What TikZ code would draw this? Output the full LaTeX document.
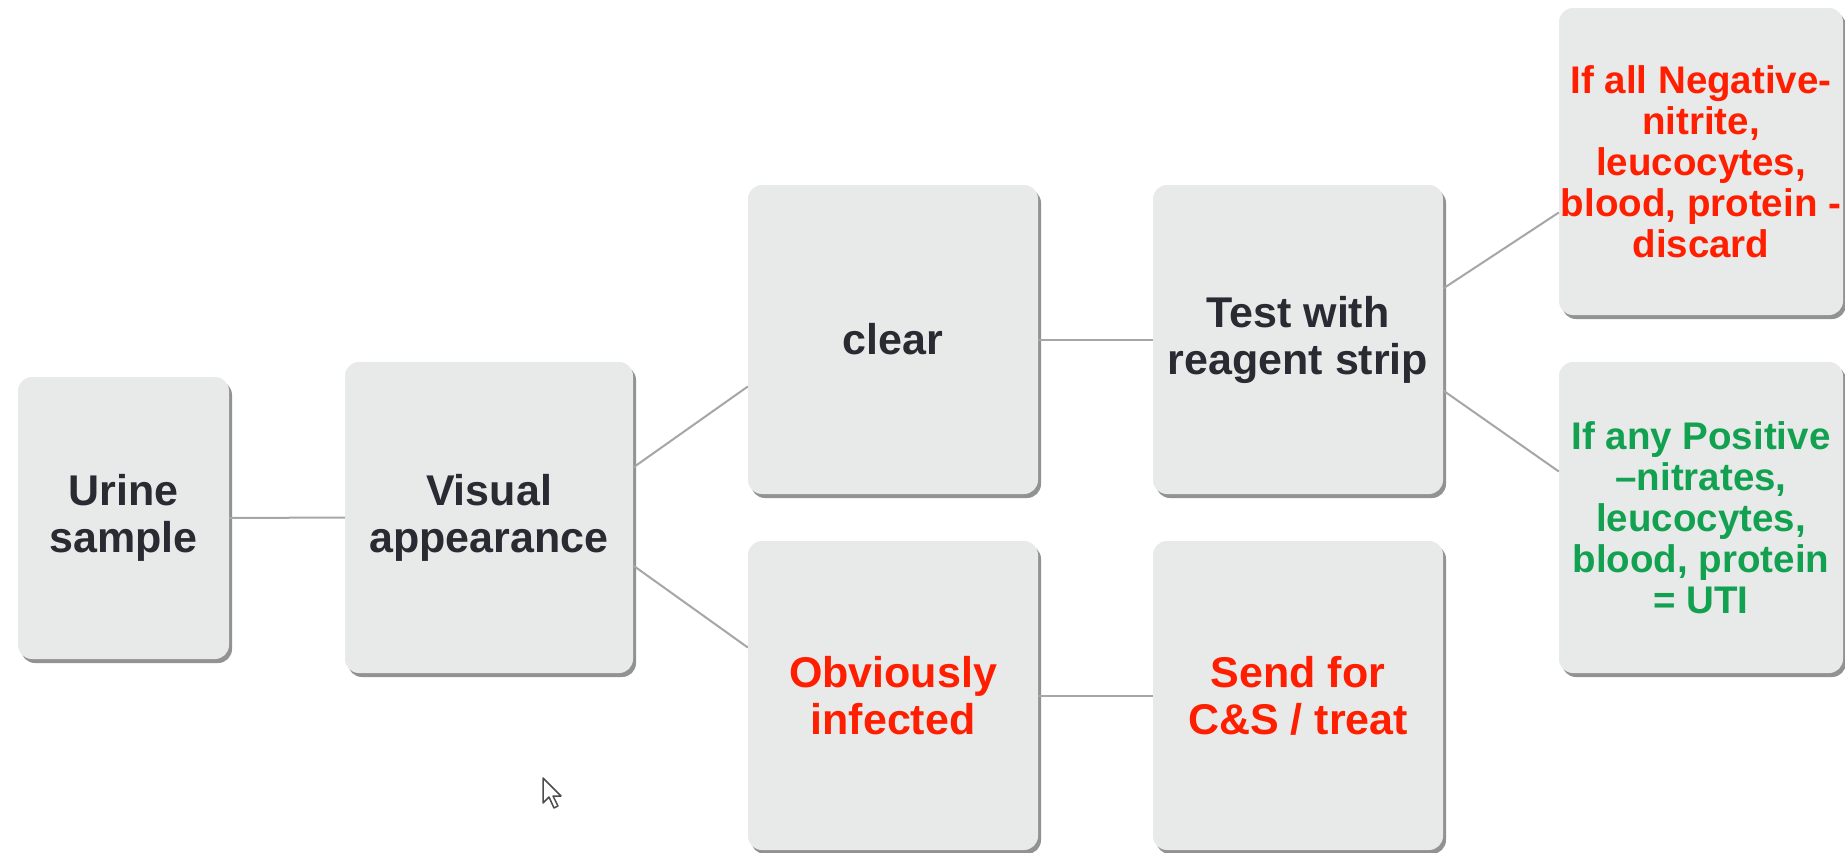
\documentclass[tikz,border=0pt]{standalone}
\usepackage{fontspec}
\setmainfont{Liberation Sans}
\usetikzlibrary{shadows}
\definecolor{boxfill}{HTML}{E8E9E9}
\definecolor{txtdark}{HTML}{2A2A33}
\definecolor{txtred}{HTML}{FF1E00}
\definecolor{txtgreen}{HTML}{12A150}
\definecolor{linegray}{HTML}{A6A6A6}
\definecolor{shadowgray}{HTML}{6E6E6E}
\begin{document}
\begin{tikzpicture}[x=1pt,y=-1pt,
  card/.style={rectangle, rounded corners=14pt, fill=boxfill, inner sep=0pt, align=center,
    font=\fontsize{43}{47}\selectfont\bfseries, text=txtdark,
    drop shadow={shadow xshift=3pt, shadow yshift=-4pt, fill=shadowgray, opacity=0.75}},
  smallcard/.style={card, font=\fontsize{38.5}{41}\selectfont\bfseries},
  link/.style={draw=linegray, line width=2pt}]
\useasboundingbox (0,0) rectangle (1845,852);
\fill[white] (0,0) rectangle (1845,852);

\node[card, minimum width=211pt, minimum height=282pt] (urine) at (123.5,518) {Urine\\sample};
\node[card, minimum width=288pt, minimum height=311pt] (vis) at (489,517.5) {Visual\\appearance};
\node[card, minimum width=290pt, minimum height=309pt] (clear) at (893,339.5) {clear};
\node[card, minimum width=290pt, minimum height=309pt, text=txtred] (infected) at (893,695.5) {Obviously\\infected};
\node[card, minimum width=290pt, minimum height=309pt] (test) at (1298,339.5) {Test with\\reagent strip};
\node[card, minimum width=290pt, minimum height=309pt, text=txtred] (send) at (1298,695.5) {Send for\\C\&S / treat};
\node[smallcard, minimum width=284pt, minimum height=307pt, text=txtred] (neg) at (1701,161.5)
  {If all Negative-\\nitrite,\\leucocytes,\\blood, protein -\\discard};
\node[smallcard, minimum width=284pt, minimum height=311pt, text=txtgreen] (pos) at (1701,517.5)
  {If any Positive\\–nitrates,\\leucocytes,\\blood, protein\\= UTI};

\draw[link] (urine.east) -- (vis.west);
\draw[link] ([yshift=50pt]vis.east) -- ([yshift=-47pt]clear.west);
\draw[link] ([yshift=-48pt]vis.east) -- ([yshift=48pt]infected.west);
\draw[link] (clear.east) -- (test.west);
\draw[link] (infected.east) -- (send.west);
\draw[link] ([yshift=51pt]test.east) -- ([yshift=-51pt]neg.west);
\draw[link] ([yshift=-51pt]test.east) -- ([yshift=46pt]pos.west);

% mouse pointer
\draw[fill=white, draw=gray!60!black, line width=1.5pt, line join=round]
  (543,778) -- (543,803) -- (549,797) -- (554,808) -- (558,806) -- (553,796) -- (561,796) -- cycle;
\end{tikzpicture}
\end{document}
